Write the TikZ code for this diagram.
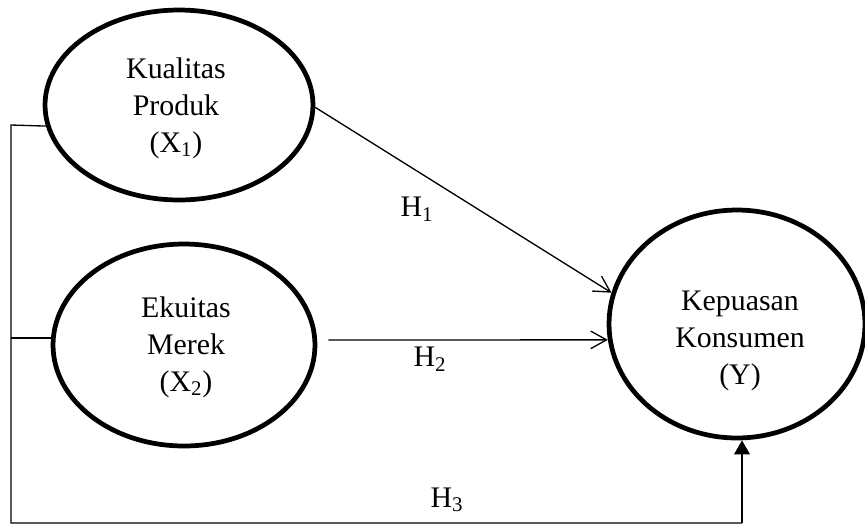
\documentclass[tikz,border=0pt]{standalone}
\usepackage{fontspec}
\setmainfont{Liberation Serif}
\usetikzlibrary{shapes.geometric,arrows.meta}

\begin{document}
\begin{tikzpicture}[x=0.02cm,y=-0.02cm,font=\fontsize{17}{21}\selectfont,
  var/.style={ellipse,draw,line width=2.7pt,inner sep=0pt},
  txt/.style={align=center,inner sep=0pt},
  lnk/.style={line width=0.75pt}]
\useasboundingbox (0,0) rectangle (865,525);
\node[var,minimum width=5.36cm,minimum height=3.8cm] (kp) at (179,105) {};
\node[var,minimum width=5.24cm,minimum height=4.04cm] (ke) at (184,345) {};
\node[var,minimum width=5.12cm,minimum height=4.56cm] (kk) at (737,324) {};
\node[txt] (kpt) at (176,108) {Kualitas\\Produk\\(X\textsubscript{1})};
\node[txt] (ket) at (186,347) {Ekuitas\\Merek\\(X\textsubscript{2})};
\node[txt] (kkt) at (740,341) {Kepuasan\\Konsumen\\(Y)};
% hipotesis
\draw[lnk,-{Straight Barb[length=9pt,width=10pt]}] (kp.359) -- (kk.166);
\draw[lnk,-{Straight Barb[length=9pt,width=10pt]}] ([shift={(11,-5)}]ke.east) -- (kk.187);
\coordinate (c1) at (11,125);
\coordinate (c2) at (11,523);
\coordinate (c3) at (742,523);
\draw[lnk] (kp.189) -- (c1) -- (c2) -- (c3);
\draw[lnk,-{Triangle[length=8pt,width=9pt]}] (c3) -- (c3 |- kk.south);
\draw[lnk] (ke.177) -- (ke.177 -| c1);
\node (h1) at (417,209) {H\textsubscript{1}};
\node (h2) at (430,359) {H\textsubscript{2}};
\node (h3) at (447,500) {H\textsubscript{3}};
\end{tikzpicture}
\end{document}
